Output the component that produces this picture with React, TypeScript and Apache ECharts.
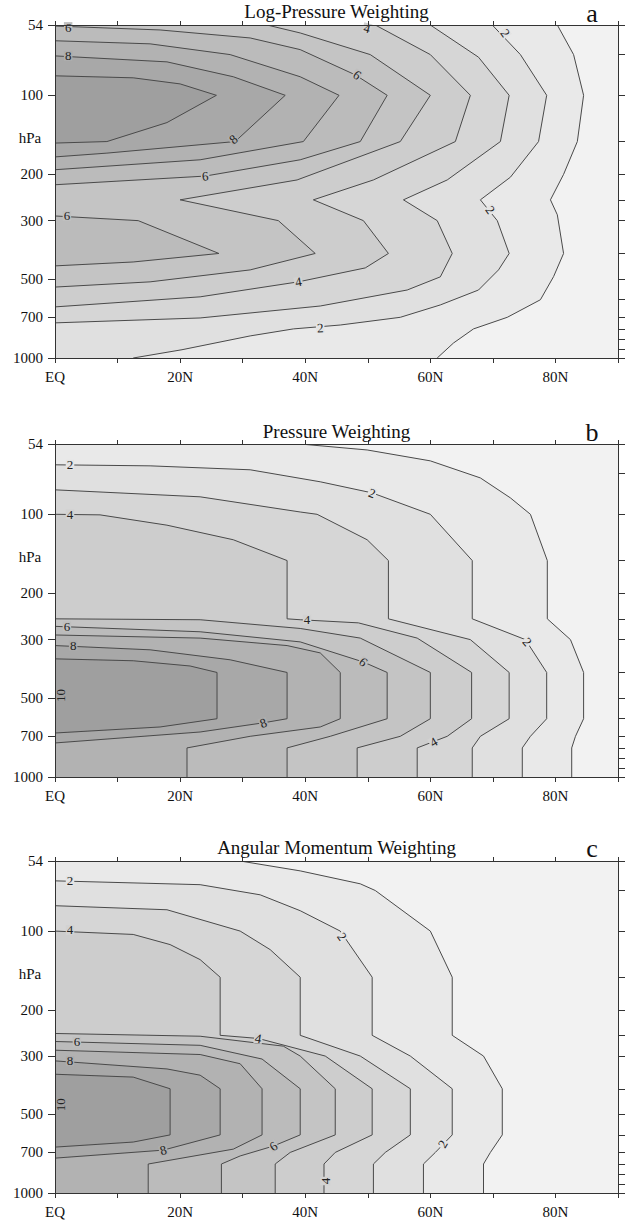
import React, { useEffect, useRef } from 'react';
import * as echarts from 'echarts';

type Pt = [number, number];
type Contour = [number, Pt[]];
type Label = [number, number, string, number];

// ---- axes / ticks ----
const LAT_TICKS_INTERVAL = 10;
const LAT_LABELS: Record<number, string> = { 0: 'EQ', 20: '20N', 40: '40N', 60: '60N', 80: '80N' };
const P_LABELS = [54, 100, 200, 300, 500, 700, 1000];
const MODEL_LEVELS = [54, 70, 100, 150, 200, 250, 300, 400, 500, 600, 700, 775, 850, 925, 1000];
const P_TOP = 54;
const P_BOTTOM = 1000;

const TITLES = ['Log-Pressure Weighting', 'Pressure Weighting', 'Angular Momentum Weighting'];
const LETTERS = ['a', 'b', 'c'];

// ---- panel a: contours [level, [lat, hPa] ...] ----
const CONTOURS_A: Contour[] = [
  [1, [[80.3, 54], [82.9, 70], [84.5, 100], [83.5, 150], [81.3, 200], [79.2, 250], [80.3, 285], [81.3, 400], [79.7, 490], [77.6, 600], [72.3, 700], [66.9, 775], [63.7, 877], [61.1, 1000]]],
  [2, [[69.9, 54], [74.4, 70], [78.6, 100], [77.3, 150], [72.8, 205], [68.0, 250], [70.7, 300], [72.6, 400], [70.9, 462], [67.7, 551], [61.6, 628], [55.2, 700], [45.6, 749], [38.1, 775], [31.2, 824], [20.3, 930], [12.5, 1000]]],
  [3, [[60, 54], [67.7, 71.6], [72.6, 100], [71.2, 150], [62.7, 210], [55.7, 250], [61.1, 300], [63.5, 400], [61.6, 491], [56.3, 551], [42.4, 634], [23.2, 704], [0, 735]]],
  [4, [[51.2, 54], [60, 70], [66.4, 100], [64, 150], [50.9, 210], [41.3, 250], [49.3, 300], [53.3, 400], [49.6, 454], [38.9, 513], [23.2, 585], [0, 639]]],
  [5, [[33.9, 54], [39.2, 57.9], [50.4, 70], [60, 100], [55.2, 150], [38.7, 210], [20, 250], [35.7, 300], [41.6, 400], [31.2, 462], [15.2, 513], [0, 537]]],
  [6, [[0, 54.5], [16.8, 56.4], [31.2, 60.5], [39.2, 67], [48, 83.6], [53.1, 100], [48.8, 150], [39.2, 176], [24, 203], [0, 219]]],
  [6, [[0, 288], [13.3, 300], [26.2, 400], [12.5, 431], [0, 446]]],
  [7, [[0, 62], [15.2, 63.7], [28, 70], [39.2, 85], [45.4, 100], [39.7, 150], [23.2, 176], [0, 192]]],
  [8, [[0, 70.8], [17.9, 74.6], [28.5, 85], [36.8, 100], [28.8, 150], [8.3, 166], [0, 171.6]]],
  [9, [[0, 84.3], [12.5, 85.8], [20, 90.5], [25.8, 100], [17.9, 127], [8.3, 150], [0, 152]]],
];
const LABELS_A: Label[] = [
  [2.1, 55, '6', 0], [2.1, 70.8, '8', 0], [48.3, 83.6, '6', -35], [49.9, 55.5, '4', -15],
  [72, 58, '2', -55], [28.5, 147, '8', 40], [24, 203, '6', 4], [69.6, 273, '2', -55],
  [1.9, 288, '6', 0], [38.9, 513, '4', 10], [42.4, 767, '2', 3],
];

// ---- panel b ----
const CONTOURS_B: Contour[] = [
  [1, [[39.2, 54], [49.9, 56.9], [60, 62.6], [68, 72.7], [72.8, 86.6], [76, 100], [78.7, 150], [78.7, 250], [82.4, 300], [84.5, 400], [84.5, 600], [83.2, 700], [82.6, 775], [82.6, 1000]]],
  [2, [[0, 64.8], [15.2, 65.4], [31.2, 67.7], [42.4, 75.2], [50.7, 82.9], [60, 100], [66.7, 150], [66.7, 250], [75.2, 300], [78.6, 400], [78.6, 600], [76, 700], [74.7, 775], [74.7, 1000]]],
  [3, [[0, 80.7], [23.2, 85.8], [39.2, 98], [41.9, 100], [49.9, 125], [53.3, 150], [53.3, 250], [66.4, 300], [72.6, 400], [72.6, 600], [68, 700], [66.7, 775], [66.7, 1000]]],
  [4, [[0, 100], [7.2, 100.5], [17.9, 110], [28.5, 125], [37.1, 150], [37.1, 250], [39.2, 252], [48.5, 259], [57.9, 296], [66.6, 400], [66.6, 600], [62.7, 700], [57.9, 775], [57.9, 1000]]],
  [5, [[0, 250], [23.2, 252], [39.2, 272], [48.8, 296], [60, 400], [60, 600], [55.2, 700], [48.3, 775], [48.3, 1000]]],
  [6, [[0, 267], [23.2, 280], [39.2, 306], [49.3, 365], [53.1, 400], [53.1, 600], [44, 700], [37.1, 775], [37.1, 1000]]],
  [7, [[0, 288], [23.2, 296], [37.1, 316], [42.4, 337], [45.6, 400], [45.6, 600], [42.4, 645], [31.2, 700], [21.1, 775], [21.1, 1000]]],
  [8, [[0, 316], [15.2, 328], [28, 358], [37.1, 400], [37.1, 600], [33.3, 622], [23.2, 674], [0, 742]]],
  [9, [[0, 355], [12.5, 361], [21.6, 378], [25.9, 400], [25.9, 600], [16.8, 645], [0, 680]]],
];
const LABELS_B: Label[] = [
  [2.4, 64.8, '2', 0], [2.4, 100, '4', 0], [50.7, 83, '2', -20], [40.3, 252, '4', 0],
  [1.9, 267, '6', 0], [2.9, 316, '8', 0], [0.9, 490, '10', 90], [33.3, 622, '8', 20],
  [49.3, 365, '6', -40], [60.5, 736, '4', 30], [75.5, 306, '2', -50],
];

// ---- panel c ----
const CONTOURS_C: Contour[] = [
  [1, [[29.6, 54], [39.2, 58.9], [48.8, 66], [51.2, 70], [60, 100], [63.5, 150], [63.5, 250], [68.5, 300], [71.5, 400], [71.5, 600], [69.6, 700], [68.5, 775], [68.5, 1000]]],
  [2, [[0, 64.3], [23.2, 66.5], [32.8, 72.7], [39.2, 83.6], [45.6, 100], [50.7, 150], [50.7, 250], [56.8, 300], [63.5, 400], [63.5, 600], [60.8, 700], [58.9, 775], [58.9, 1000]]],
  [3, [[0, 80], [17.9, 82.9], [29.6, 100], [34.4, 117.7], [39.2, 150], [39.2, 250], [48.8, 300], [56.8, 400], [56.8, 600], [52.8, 700], [50.9, 775], [50.9, 1000]]],
  [4, [[0, 100], [12.5, 103], [18.4, 112.6], [23.2, 128.5], [26.4, 150], [26.4, 250], [32.5, 257], [43.2, 300], [50.7, 400], [50.7, 600], [44.8, 700], [43, 775], [43, 1000]]],
  [5, [[0, 246], [23.2, 252], [36.5, 275], [39.2, 300], [44.8, 400], [44.8, 600], [37.6, 700], [35.2, 775], [35.2, 1000]]],
  [6, [[0, 264], [23.2, 273], [33.1, 308], [39.2, 400], [39.2, 600], [34.9, 662], [29.6, 722], [26.6, 775], [26.6, 1000]]],
  [7, [[0, 285], [23.2, 296], [29.6, 321], [33.1, 400], [33.1, 600], [28.5, 680], [14.9, 775], [14.9, 1000]]],
  [8, [[0, 313], [17.9, 336], [23.2, 355], [26.4, 400], [26.4, 600], [17.3, 686], [0, 736]]],
  [9, [[0, 352], [12.5, 361], [18.4, 400], [18.4, 600], [12.5, 639], [0, 668]]],
];
const LABELS_C: Label[] = [
  [2.4, 64.3, '2', 0], [2.4, 99, '4', 0], [45.9, 105, '2', -55], [32.5, 257, '4', -10],
  [3.5, 264, '6', 0], [2.4, 313, '8', 0], [0.9, 460, '10', 90], [17.3, 686, '8', 15],
  [34.9, 662, '6', 35], [62, 650, '2', 60], [43.2, 900, '4', 90],
];

// ---- layout & style ----
const FONT = '"Liberation Serif", "Times New Roman", Times, serif';
const AXIS_COLOR = '#333';
const LINE_COLOR = '#4a4a4a';
const GRID_LEFT = 55;
const GRID_WIDTH = 563;
const GRID_TOPS = [25, 444, 861];
const GRID_HEIGHTS = [333, 333, 332];
const TITLE_Y = [11, 431, 847];
const LETTER_Y = [13, 432, 848];

function shade(level: number) {
  const g = Math.round(242 - 9.2 * level);
  return `rgb(${g},${g},${g})`;
}

const PANELS = [
  { contours: CONTOURS_A, labels: LABELS_A },
  { contours: CONTOURS_B, labels: LABELS_B },
  { contours: CONTOURS_C, labels: LABELS_C },
];

function centeredText(text: string, x: number, y: number, fontSize: number, lineHeight?: number) {
  return {
    type: 'text', x, y, z: 20,
    style: {
      text, fontFamily: FONT, fontSize, fill: '#111', lineHeight: lineHeight ?? fontSize,
      align: 'center', verticalAlign: 'middle', textAlign: 'center', textVerticalAlign: 'middle',
    },
  };
}

function buildOption() {
  const grid: any[] = [];
  const xAxis: any[] = [];
  const yAxis: any[] = [];
  const series: any[] = [];
  const graphic: any[] = [];

  PANELS.forEach((panel, i) => {
    grid.push({
      left: GRID_LEFT, top: GRID_TOPS[i], width: GRID_WIDTH, height: GRID_HEIGHTS[i],
      show: true, backgroundColor: shade(0), borderWidth: 0,
    });
    const lineStyle = { color: AXIS_COLOR, width: 1 };
    xAxis.push({
      gridIndex: i, type: 'value', position: 'bottom', min: 0, max: 90, interval: LAT_TICKS_INTERVAL, z: 10,
      axisLine: { show: true, onZero: false, lineStyle },
      axisTick: { show: true, inside: false, length: 5, lineStyle },
      axisLabel: {
        show: true, margin: 11, fontFamily: FONT, fontSize: 15, color: '#111',
        formatter: (v: number) => LAT_LABELS[v] ?? '',
      },
      splitLine: { show: false },
    });
    xAxis.push({
      gridIndex: i, type: 'value', position: 'top', min: 0, max: 90, interval: LAT_TICKS_INTERVAL, z: 10,
      axisLine: { show: true, onZero: false, lineStyle },
      axisTick: { show: true, inside: false, length: 4, lineStyle },
      axisLabel: { show: false },
      splitLine: { show: false },
    });
    yAxis.push({
      gridIndex: i, type: 'log', logBase: 10, min: P_TOP, max: P_BOTTOM, inverse: true, position: 'left', z: 10,
      axisLine: { show: true, onZero: false, lineStyle },
      axisTick: { show: true, inside: false, length: 7, lineStyle, customValues: P_LABELS },
      axisLabel: {
        show: true, margin: 12, fontFamily: FONT, fontSize: 15, color: '#111',
        customValues: P_LABELS, formatter: (v: number) => String(Math.round(v)),
      },
      splitLine: { show: false }, minorTick: { show: false },
    });
    yAxis.push({
      gridIndex: i, type: 'log', logBase: 10, min: P_TOP, max: P_BOTTOM, inverse: true, position: 'right', z: 10,
      axisLine: { show: true, onZero: false, lineStyle },
      axisTick: { show: true, inside: false, length: 7, lineStyle, customValues: MODEL_LEVELS },
      axisLabel: { show: false },
      splitLine: { show: false }, minorTick: { show: false },
    });

    const contours = panel.contours;
    const labels = panel.labels;
    const firstPts = contours.map((c) => [c[1][0][0], c[1][0][1]]);

    series.push({
      type: 'custom', coordinateSystem: 'cartesian2d', xAxisIndex: 2 * i, yAxisIndex: 2 * i,
      clip: true, silent: true, z: 1, animation: false,
      data: firstPts,
      renderItem: (params: any, api: any) => {
        const [level, pts] = contours[params.dataIndex];
        const ring: Pt[] = pts.slice();
        const first = pts[0];
        const last = pts[pts.length - 1];
        if (last[1] >= P_BOTTOM) ring.push([0, P_BOTTOM]);
        if (first[1] <= P_TOP) ring.push([0, P_TOP]);
        const col = shade(level);
        return {
          type: 'polygon',
          shape: { points: ring.map((p) => api.coord(p)) },
          style: { fill: col, stroke: col, lineWidth: 0.5 },
        };
      },
    });
    series.push({
      type: 'custom', coordinateSystem: 'cartesian2d', xAxisIndex: 2 * i, yAxisIndex: 2 * i,
      clip: true, silent: true, z: 2, animation: false,
      data: firstPts,
      renderItem: (params: any, api: any) => {
        const pts = contours[params.dataIndex][1];
        return {
          type: 'polyline',
          shape: { points: pts.map((p) => api.coord(p)) },
          style: { stroke: LINE_COLOR, lineWidth: 1, fill: null },
        };
      },
    });
    series.push({
      type: 'custom', coordinateSystem: 'cartesian2d', xAxisIndex: 2 * i, yAxisIndex: 2 * i,
      clip: false, silent: true, z: 3, animation: false,
      data: labels.map((l) => [l[0], l[1]]),
      renderItem: (params: any, api: any) => {
        const [lat, p, text, angle] = labels[params.dataIndex];
        const [x, y] = api.coord([lat, p]);
        const lev = Number(text);
        return {
          type: 'text', x, y, rotation: (angle * Math.PI) / 180,
          style: {
            text, fontFamily: FONT, fontSize: 13, fill: '#222', lineHeight: 10,
            align: 'center', verticalAlign: 'middle', textAlign: 'center', textVerticalAlign: 'middle',
            backgroundColor: lev >= 10 ? null : shade(lev - 0.5), padding: [0, 1],
          },
        };
      },
    });

    graphic.push(centeredText(TITLES[i], GRID_LEFT + GRID_WIDTH / 2, TITLE_Y[i], 19));
    graphic.push(centeredText(LETTERS[i], 592, LETTER_Y[i], 26, 20));
    graphic.push(centeredText('hPa', 30, GRID_TOPS[i] + 113, 15));
  });

  return { animation: false, backgroundColor: '#fff', grid, xAxis, yAxis, series, graphic };
}

export default function App() {
  const ref = useRef<HTMLDivElement>(null);
  useEffect(() => {
    if (!ref.current) return;
    const chart = echarts.init(ref.current, null, { renderer: 'svg', width: 629, height: 1221 });
    chart.setOption(buildOption() as any);
    return () => chart.dispose();
  }, []);
  return (
    <div
      ref={ref}
      style={{ position: 'fixed', left: 0, top: 0, width: 629, height: 1221, background: '#fff' }}
    />
  );
}
